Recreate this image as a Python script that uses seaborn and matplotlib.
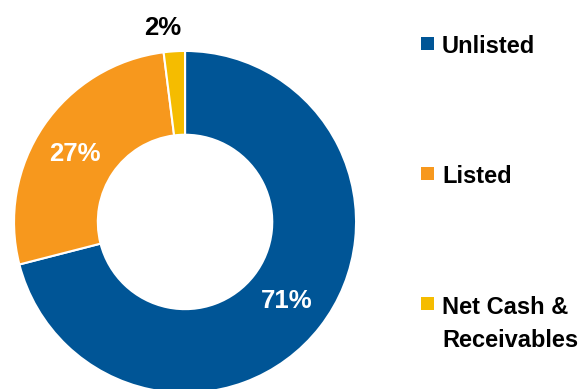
import matplotlib
matplotlib.use("Agg")
import matplotlib.pyplot as plt
import seaborn as sns
from matplotlib.patches import Rectangle

sns.set_theme(style="white")
plt.rcParams["font.family"] = ["Liberation Sans", "DejaVu Sans"]

categories = ["Unlisted", "Listed", "Net Cash &\nReceivables"]
values = [71, 27, 2]
pct_labels = ["71%", "27%", "2%"]
colors = ["#005596", "#F7981D", "#F5BC00"]

W, H = 583, 389
fig = plt.figure(figsize=(W / 100, H / 100), dpi=100)
ax = fig.add_axes([0, 0, 1, 1])
wedges, _ = ax.pie(values, colors=colors, startangle=90, counterclock=False,
                   radius=1.0, wedgeprops=dict(width=0.49, edgecolor="white", linewidth=1.5))
ax.set_aspect("auto")
ax.set_xlim(-1.082, 2.327)
ax.set_ylim(-0.977, 1.298)
ax.axis("off")

label_pos = [(0.596, -0.462), (-0.643, 0.40), (-0.129, 1.137)]
label_col = ["white", "white", "black"]
for (x, y), t, c in zip(label_pos, pct_labels, label_col):
    ax.text(x, y, t, ha="center", va="center", color=c, fontsize=18.5, fontweight="bold")

# legend (first-line baselines in pixels)
leg_base = [53, 183, 313]
line_gap = 34
for yb, lab, col in zip(leg_base, categories, colors):
    fig.patches.append(Rectangle((421 / W, 1 - (yb - 9.5 + 6.5) / H), 13 / W, 13 / H,
                                 transform=fig.transFigure, facecolor=col, edgecolor="none"))
    last_base = yb + line_gap * lab.count("\n")
    fig.text(442 / W, 1 - last_base / H, lab, ha="left", va="baseline", fontsize=17,
             fontweight="bold", color="black", linespacing=1.55)

fig.savefig("out.png", dpi=100, facecolor="white")
